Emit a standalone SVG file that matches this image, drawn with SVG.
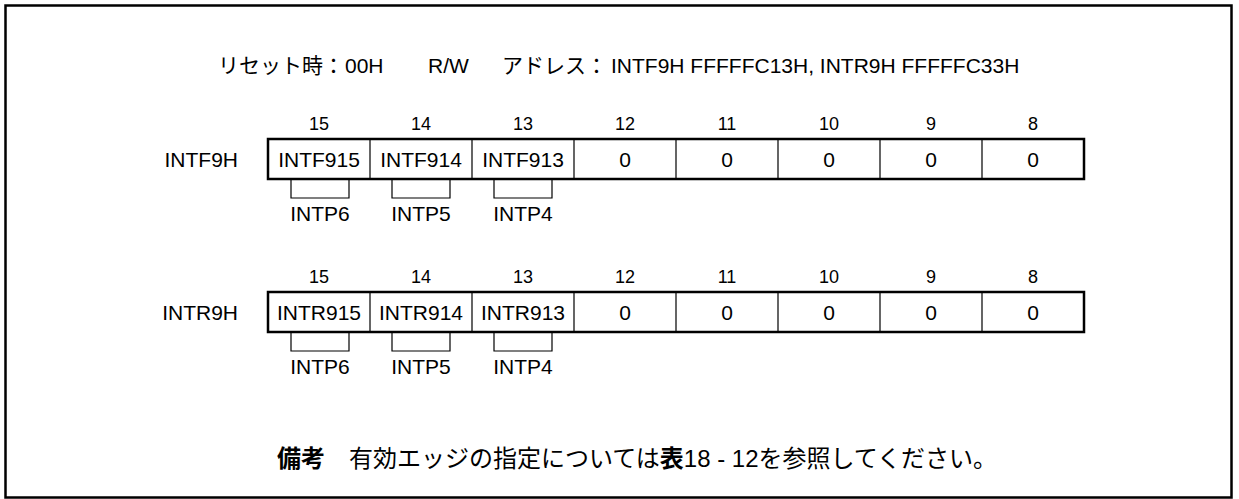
<svg xmlns="http://www.w3.org/2000/svg" width="1239" height="499" viewBox="0 0 1239 499">
<style>
text{font-family:"Liberation Sans","Noto Sans CJK JP",sans-serif;fill:#000}
.t{font-size:21px}
.n{font-size:18px;text-anchor:middle}
.c{font-size:21px;text-anchor:middle}
.l{font-size:21px;text-anchor:end}
.frame{fill:none;stroke:#000;stroke-width:2.5}
.box{fill:#fff;stroke:#000;stroke-width:2.5}
.div{stroke:#000;stroke-width:1.2}
.br{fill:none;stroke:#000;stroke-width:1.2}
.jp{font-family:"Noto Sans CJK JP","Liberation Sans",sans-serif;font-size:24px}
</style>
<rect class="frame" x="5.5" y="5.5" width="1226" height="492"/>
<g id="header">
<text class="t" x="218" y="73">リセット時：</text>
<text class="t" x="345" y="73">00H</text>
<text class="t" x="428" y="73">R/W</text>
<text class="t" x="502" y="73">アドレス：</text>
<text class="t" x="611" y="73">INTF9H FFFFFC13H, INTR9H FFFFFC33H</text>
</g>
<g id="INTF9H">
<text class="l" x="238" y="167">INTF9H</text>
<g class="bits">
<text class="n" x="319" y="130">15</text><text class="n" x="421" y="130">14</text><text class="n" x="523" y="130">13</text><text class="n" x="625" y="130">12</text><text class="n" x="727" y="130">11</text><text class="n" x="829" y="130">10</text><text class="n" x="931" y="130">9</text><text class="n" x="1033" y="130">8</text>
</g>
<rect class="box" x="268" y="139" width="816" height="40"/>
<path class="div" d="M370 139V179M472 139V179M574 139V179M676 139V179M778 139V179M880 139V179M982 139V179"/>
<text class="c" x="319" y="167">INTF915</text><text class="c" x="421" y="167">INTF914</text><text class="c" x="523" y="167">INTF913</text><text class="c" x="625" y="167">0</text><text class="c" x="727" y="167">0</text><text class="c" x="829" y="167">0</text><text class="c" x="931" y="167">0</text><text class="c" x="1033" y="167">0</text>
</g>
<g id="INTF9H-brackets">
<path class="br" d="M291 180V198H349V180M392 180V198H450V180M494 180V198H552V180"/>
<text class="c" x="320" y="221">INTP6</text><text class="c" x="421" y="221">INTP5</text><text class="c" x="523" y="221">INTP4</text>
</g>
<g id="INTR9H">
<text class="l" x="238" y="320">INTR9H</text>
<g class="bits">
<text class="n" x="319" y="283">15</text><text class="n" x="421" y="283">14</text><text class="n" x="523" y="283">13</text><text class="n" x="625" y="283">12</text><text class="n" x="727" y="283">11</text><text class="n" x="829" y="283">10</text><text class="n" x="931" y="283">9</text><text class="n" x="1033" y="283">8</text>
</g>
<rect class="box" x="268" y="292" width="816" height="40"/>
<path class="div" d="M370 292V332M472 292V332M574 292V332M676 292V332M778 292V332M880 292V332M982 292V332"/>
<text class="c" x="319" y="320">INTR915</text><text class="c" x="421" y="320">INTR914</text><text class="c" x="523" y="320">INTR913</text><text class="c" x="625" y="320">0</text><text class="c" x="727" y="320">0</text><text class="c" x="829" y="320">0</text><text class="c" x="931" y="320">0</text><text class="c" x="1033" y="320">0</text>
</g>
<g id="INTR9H-brackets">
<path class="br" d="M291 333V351H349V333M392 333V351H450V333M494 333V351H552V333"/>
<text class="c" x="320" y="374">INTP6</text><text class="c" x="421" y="374">INTP5</text><text class="c" x="523" y="374">INTP4</text>
</g>
<g id="note">
<text class="jp" x="277" y="467"><tspan font-weight="bold">備考</tspan>　有効エッジの指定については<tspan font-weight="bold">表</tspan><tspan font-family="Liberation Sans">18 - 12</tspan>を参照してください。</text>
</g>
</svg>
